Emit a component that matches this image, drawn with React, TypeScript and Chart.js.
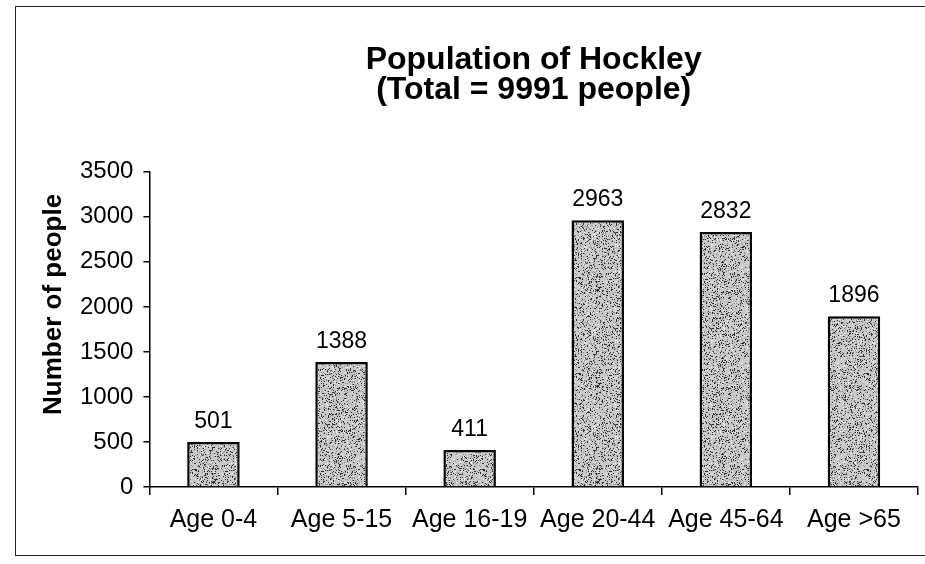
import React, { useEffect, useRef } from "react";
import { Chart, registerables } from "chart.js";

Chart.register(...registerables);

const categories = ["Age 0-4", "Age 5-15", "Age 16-19", "Age 20-44", "Age 45-64", "Age >65"];
const populationValues = [501, 1388, 411, 2963, 2832, 1896];
const titleLines = ["Population of Hockley", "(Total = 9991 people)"];
const yAxisTitle = "Number of people";
const yMin = 0;
const yMax = 3500;
const yStep = 500;

const FONT = '"Liberation Sans", Arial, Helvetica, sans-serif';

function makeStipple(ctx: CanvasRenderingContext2D): CanvasPattern | string {
  const c = document.createElement("canvas");
  c.width = 96;
  c.height = 96;
  const g = c.getContext("2d");
  if (!g) return "#bdbdbd";
  g.fillStyle = "#c9c9c9";
  g.fillRect(0, 0, 96, 96);
  let s = 24681357;
  const rnd = () => {
    s = (Math.imul(s, 1103515245) + 12345) >>> 0;
    return s / 4294967296;
  };
  for (let i = 0; i < 3000; i++) {
    const x = Math.floor(rnd() * 96);
    const y = Math.floor(rnd() * 96);
    const v = rnd();
    g.fillStyle = v < 0.5 ? "#2e2e2e" : v < 0.78 ? "#888888" : "#f4f4f4";
    g.fillRect(x, y, 1, 1);
  }
  return ctx.createPattern(c, "repeat") || "#bdbdbd";
}

const valueLabels = {
  id: "valueLabels",
  afterDatasetsDraw(chart: any) {
    const { ctx } = chart;
    const meta = chart.getDatasetMeta(0);
    ctx.save();
    ctx.font = `23px ${FONT}`;
    ctx.fillStyle = "#000";
    ctx.textAlign = "center";
    ctx.textBaseline = "bottom";
    meta.data.forEach((bar: any, i: number) => {
      ctx.fillText(String(populationValues[i]), bar.x, bar.y - 9);
    });
    ctx.restore();
  },
};

const yTitlePlugin = {
  id: "yTitlePlugin",
  afterDraw(chart: any) {
    const { ctx, chartArea } = chart;
    ctx.save();
    ctx.translate(54, (chartArea.top + chartArea.bottom) / 2 - 25);
    ctx.rotate(-Math.PI / 2);
    ctx.font = `bold 26px ${FONT}`;
    ctx.fillStyle = "#000";
    ctx.textAlign = "center";
    ctx.textBaseline = "middle";
    ctx.fillText(yAxisTitle, 0, 0);
    ctx.restore();
  },
};

export default function App() {
  const canvasRef = useRef<HTMLCanvasElement | null>(null);

  useEffect(() => {
    const canvas = canvasRef.current;
    if (!canvas) return;
    const ctx = canvas.getContext("2d");
    if (!ctx) return;
    const pattern = makeStipple(ctx);
    const chart = new Chart(canvas, {
      type: "bar",
      data: {
        labels: categories,
        datasets: [
          {
            data: populationValues,
            backgroundColor: pattern as any,
            borderColor: "#000",
            borderWidth: 2.5,
            barPercentage: 0.41,
            categoryPercentage: 1,
          },
        ],
      },
      options: {
        animation: false,
        responsive: false,
        devicePixelRatio: 1,
        layout: { padding: { top: 8, left: 70, right: 7, bottom: 19 } },
        plugins: {
          legend: { display: false },
          tooltip: { enabled: false },
          title: {
            display: true,
            fullSize: false,
            text: titleLines,
            color: "#000",
            font: { family: FONT, size: 32, weight: "bold", lineHeight: 0.95 },
            padding: { top: 37, bottom: 66 },
          },
        },
        scales: {
          x: {
            grid: {
              offset: true,
              drawOnChartArea: false,
              drawTicks: true,
              tickLength: 8,
              color: "#000",
              lineWidth: 1.5,
            },
            border: { display: true, color: "#000", width: 1.5 },
            ticks: {
              color: "#000",
              font: { family: FONT, size: 25 },
              padding: 10,
              maxRotation: 0,
              autoSkip: false,
            },
          },
          y: {
            min: yMin,
            max: yMax,
            grid: {
              drawOnChartArea: false,
              drawTicks: true,
              tickLength: 6,
              color: "#000",
              lineWidth: 1.5,
            },
            border: { display: true, color: "#000", width: 1.5 },
            ticks: {
              stepSize: yStep,
              color: "#000",
              font: { family: FONT, size: 24 },
              padding: 10,
              callback: (v: any) => String(v),
            },
          },
        },
      },
      plugins: [valueLabels, yTitlePlugin],
    });
    return () => chart.destroy();
  }, []);

  return (
    <div style={{ position: "fixed", left: 0, top: 0, width: 925, height: 564, background: "#fff", overflow: "hidden" }}>
      <div
        style={{
          position: "absolute",
          left: 15,
          top: 6,
          width: 930,
          height: 548,
          borderLeft: "1.5px solid #222",
          borderTop: "1.5px solid #222",
          borderBottom: "1.5px solid #222",
        }}
      />
      <canvas ref={canvasRef} width={925} height={564} style={{ position: "absolute", left: 0, top: 0, width: 925, height: 564 }} />
    </div>
  );
}
